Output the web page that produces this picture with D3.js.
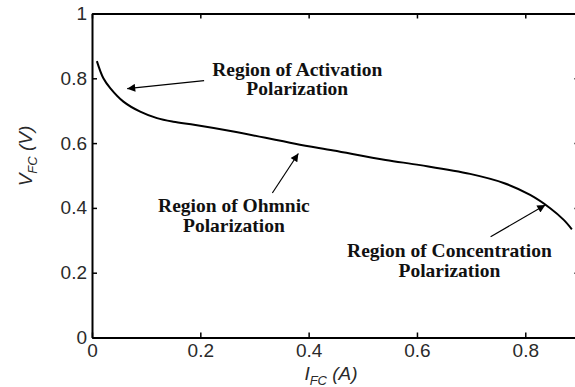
<!DOCTYPE html>
<html>
<head>
<meta charset="utf-8">
<script src="https://cdn.jsdelivr.net/npm/d3@7"></script>
<style>
  body { margin: 0; background: #fff; }
  svg { display: block; }
</style>
</head>
<body>
<div class="canvas"></div>
<script>
const dims = { width: 575, height: 387 };
const margin = { left: 92, top: 13.5, bottom: 49.5 };

// fuel cell polarization curve
const current = [0.009, 0.021, 0.034, 0.058, 0.089, 0.12, 0.15, 0.191, 0.261, 0.375, 0.446, 0.542, 0.606, 0.698, 0.76, 0.809, 0.846, 0.871, 0.886];
const voltage = [0.853, 0.8, 0.769, 0.728, 0.697, 0.677, 0.666, 0.656, 0.636, 0.598, 0.577, 0.548, 0.532, 0.505, 0.477, 0.44, 0.399, 0.363, 0.334];

const xTicks = [0, 0.2, 0.4, 0.6, 0.8];
const yTicks = [0, 0.2, 0.4, 0.6, 0.8, 1];

// annotation text, two lines each
const noteLines = [
  ["Region of Activation", "Polarization"],
  ["Region of Ohmnic", "Polarization"],
  ["Region of Concentration", "Polarization"],
];
// anchors in data units: [textX, textY, arrow tail x, y, arrow tip x, y]
const noteAnchors = [
  [0.379, 0.808, 0.207, 0.793, 0.065, 0.768],
  [0.262, 0.387, 0.333, 0.446, 0.381, 0.568],
  [0.660, 0.248, 0.736, 0.311, 0.837, 0.409],
];

const svg = d3
  .select(".canvas")
  .append("svg")
  .attr("width", dims.width)
  .attr("height", dims.height);

const x = d3
  .scaleLinear()
  .domain([0, 0.9])
  .range([margin.left, margin.left + 0.9 * 541.6]);

const y = d3
  .scaleLinear()
  .domain([0, 1])
  .range([dims.height - margin.bottom, margin.top]);

const fmt = d3.format("~g");
const tickFont = "Liberation Sans, Arial, sans-serif";

// left + bottom axes with labels, ticks pointing inward (matlab look)
const gx = svg
  .append("g")
  .attr("transform", `translate(0,${y(0)})`)
  .call(d3.axisBottom(x).tickValues(xTicks).tickFormat(fmt).tickSizeInner(-5).tickSizeOuter(0).tickPadding(6));

const gy = svg
  .append("g")
  .attr("transform", `translate(${x(0)},0)`)
  .call(d3.axisLeft(y).tickValues(yTicks).tickFormat(fmt).tickSizeInner(-5).tickSizeOuter(0).tickPadding(5));

// top + right axes, ticks only
const gxTop = svg
  .append("g")
  .attr("transform", `translate(0,${y(1)})`)
  .call(d3.axisTop(x).tickValues(xTicks).tickFormat("").tickSizeInner(-5).tickSizeOuter(0));

const gyRight = svg
  .append("g")
  .attr("transform", `translate(${x(0.9)},0)`)
  .call(d3.axisRight(y).tickValues(yTicks).tickFormat("").tickSizeInner(-5).tickSizeOuter(0));

[gx, gy, gxTop, gyRight].forEach((g) => {
  g.select(".domain").attr("stroke", "#000").attr("stroke-width", 2);
  g.selectAll(".tick line").attr("stroke", "#000").attr("stroke-width", 1.5);
  g.selectAll(".tick text")
    .attr("fill", "#2a2a2a")
    .style("font-family", tickFont)
    .style("font-size", "19px");
});

// axis titles
const yTitle = svg
  .append("text")
  .attr("transform", `translate(32,156) rotate(-90)`)
  .attr("text-anchor", "middle")
  .attr("fill", "#2a2a2a")
  .style("font-family", tickFont)
  .style("font-size", "19px")
  .style("font-style", "italic");
yTitle.append("tspan").text("V");
yTitle.append("tspan").attr("dy", 5).style("font-size", "13px").text("FC");
yTitle.append("tspan").attr("dy", -5).text(" (V)");

const xTitle = svg
  .append("text")
  .attr("x", 331)
  .attr("y", 380)
  .attr("text-anchor", "middle")
  .attr("fill", "#2a2a2a")
  .style("font-family", tickFont)
  .style("font-size", "19px")
  .style("font-style", "italic");
xTitle.append("tspan").text("I");
xTitle.append("tspan").attr("dy", 5).style("font-size", "13px").text("FC");
xTitle.append("tspan").attr("dy", -5).text(" (A)");

// the curve
const points = current.map((c, i) => [c, voltage[i]]);

svg
  .append("path")
  .datum(points)
  .attr("fill", "none")
  .attr("stroke", "#000")
  .attr("stroke-width", 2)
  .attr("d", d3.line().x((d) => x(d[0])).y((d) => y(d[1])).curve(d3.curveCatmullRom.alpha(0.5)));

// arrow marker
svg
  .append("defs")
  .append("marker")
  .attr("id", "head")
  .attr("viewBox", "0 0 10 10")
  .attr("refX", 10)
  .attr("refY", 5)
  .attr("markerWidth", 12)
  .attr("markerHeight", 8)
  .attr("markerUnits", "userSpaceOnUse")
  .attr("orient", "auto")
  .append("path")
  .attr("d", "M0,0L10,5L0,10Z")
  .attr("fill", "#000");

const notes = svg
  .append("g")
  .selectAll("g")
  .data(noteLines)
  .join("g");

notes
  .append("line")
  .attr("x1", (d, i) => x(noteAnchors[i][2]))
  .attr("y1", (d, i) => y(noteAnchors[i][3]))
  .attr("x2", (d, i) => x(noteAnchors[i][4]))
  .attr("y2", (d, i) => y(noteAnchors[i][5]))
  .attr("stroke", "#000")
  .attr("stroke-width", 1.2)
  .attr("marker-end", "url(#head)");

notes
  .append("text")
  .attr("text-anchor", "middle")
  .attr("fill", "#111")
  .style("font-family", "Liberation Serif, Times New Roman, serif")
  .style("font-weight", "bold")
  .style("font-size", "19.5px")
  .selectAll("tspan")
  .data((d, i) => d.map((t) => ({ t, i })))
  .join("tspan")
  .attr("x", (d) => x(noteAnchors[d.i][0]))
  .attr("y", (d, j) => y(noteAnchors[d.i][1]) + j * 19.5)
  .text((d) => d.t);
</script>
</body>
</html>
